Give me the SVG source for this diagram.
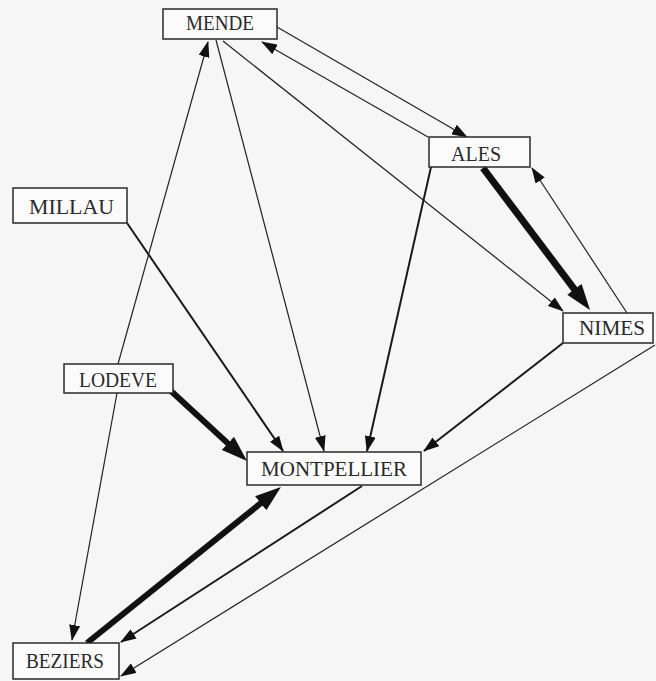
<svg xmlns="http://www.w3.org/2000/svg" width="656" height="681" viewBox="0 0 656 681">
<defs>
<style>
.box{fill:#fbfbfb;stroke:#2a2a2a;stroke-width:1.5}
.lbl{font-family:"Liberation Serif","DejaVu Serif",serif;font-size:20px;fill:#2a2a2a;text-anchor:start}
.thin{stroke:#222;stroke-width:1.2;fill:none;marker-end:url(#s)}
.med{stroke:#1a1a1a;stroke-width:2;fill:none;marker-end:url(#s)}
.thick{stroke:#111;stroke-width:6;fill:none;marker-end:url(#b)}
</style>
<marker id="s" markerUnits="userSpaceOnUse" markerWidth="16" markerHeight="11" refX="15" refY="5.5" orient="auto">
<path d="M0,0 L16,5.5 L0,11 z" fill="#111"/>
</marker>
<marker id="b" markerUnits="userSpaceOnUse" markerWidth="26" markerHeight="18" refX="14" refY="9" orient="auto">
<path d="M0,0 L26,9 L0,18 z" fill="#111"/>
</marker>
</defs>
<rect x="0" y="0" width="656" height="681" fill="#f6f6f6"/>
<g id="connectors">
<line class="thin" x1="277" y1="27" x2="467" y2="137"/>
<line class="thin" x1="428" y1="137" x2="262" y2="42"/>
<line class="thin" x1="223" y1="41" x2="563" y2="311"/>
<line class="thin" x1="216" y1="40" x2="324" y2="451"/>
<line class="thin" x1="118" y1="364" x2="208" y2="42"/>
<line class="thin" x1="117" y1="393" x2="72" y2="640"/>
<line class="med" x1="127" y1="223" x2="283" y2="451"/>
<line class="med" x1="431" y1="167" x2="367" y2="451"/>
<line class="med" x1="563" y1="343" x2="424" y2="451"/>
<line class="thin" x1="627" y1="313" x2="532" y2="168"/>
<line class="med" x1="362" y1="486" x2="121" y2="642"/>
<line class="thin" x1="655" y1="345" x2="121" y2="676"/>
<line class="thick" x1="171" y1="391" x2="238.2" y2="452.9"/>
<line class="thick" style="stroke-width:7" x1="483" y1="168" x2="582.8" y2="300.4"/>
<line class="thick" x1="87" y1="643" x2="271.6" y2="494.5"/>
</g>
<g id="mende"><rect class="box" x="163" y="9" width="114" height="30"/><text class="lbl" x="186" y="30" textLength="68" lengthAdjust="spacingAndGlyphs">MENDE</text></g>
<g id="ales"><rect class="box" x="429" y="137" width="101" height="30"/><text class="lbl" x="451" y="161" textLength="50" lengthAdjust="spacingAndGlyphs">ALES</text></g>
<g id="nimes"><rect class="box" x="563" y="313" width="90" height="30"/><text class="lbl" x="579" y="335" textLength="66" lengthAdjust="spacingAndGlyphs">NIMES</text></g>
<g id="millau"><rect class="box" x="13" y="188" width="114" height="35"/><text class="lbl" x="29" y="214" textLength="85" lengthAdjust="spacingAndGlyphs">MILLAU</text></g>
<g id="lodeve"><rect class="box" x="64" y="364" width="109" height="29"/><text class="lbl" x="79" y="387" textLength="78" lengthAdjust="spacingAndGlyphs">LODEVE</text></g>
<g id="montpellier"><rect class="box" x="247" y="452" width="174" height="33"/><text class="lbl" x="261" y="476" textLength="146" lengthAdjust="spacingAndGlyphs">MONTPELLIER</text></g>
<g id="beziers"><rect class="box" x="13" y="643" width="106" height="36"/><text class="lbl" x="26" y="668" textLength="78" lengthAdjust="spacingAndGlyphs">BEZIERS</text></g>
</svg>
